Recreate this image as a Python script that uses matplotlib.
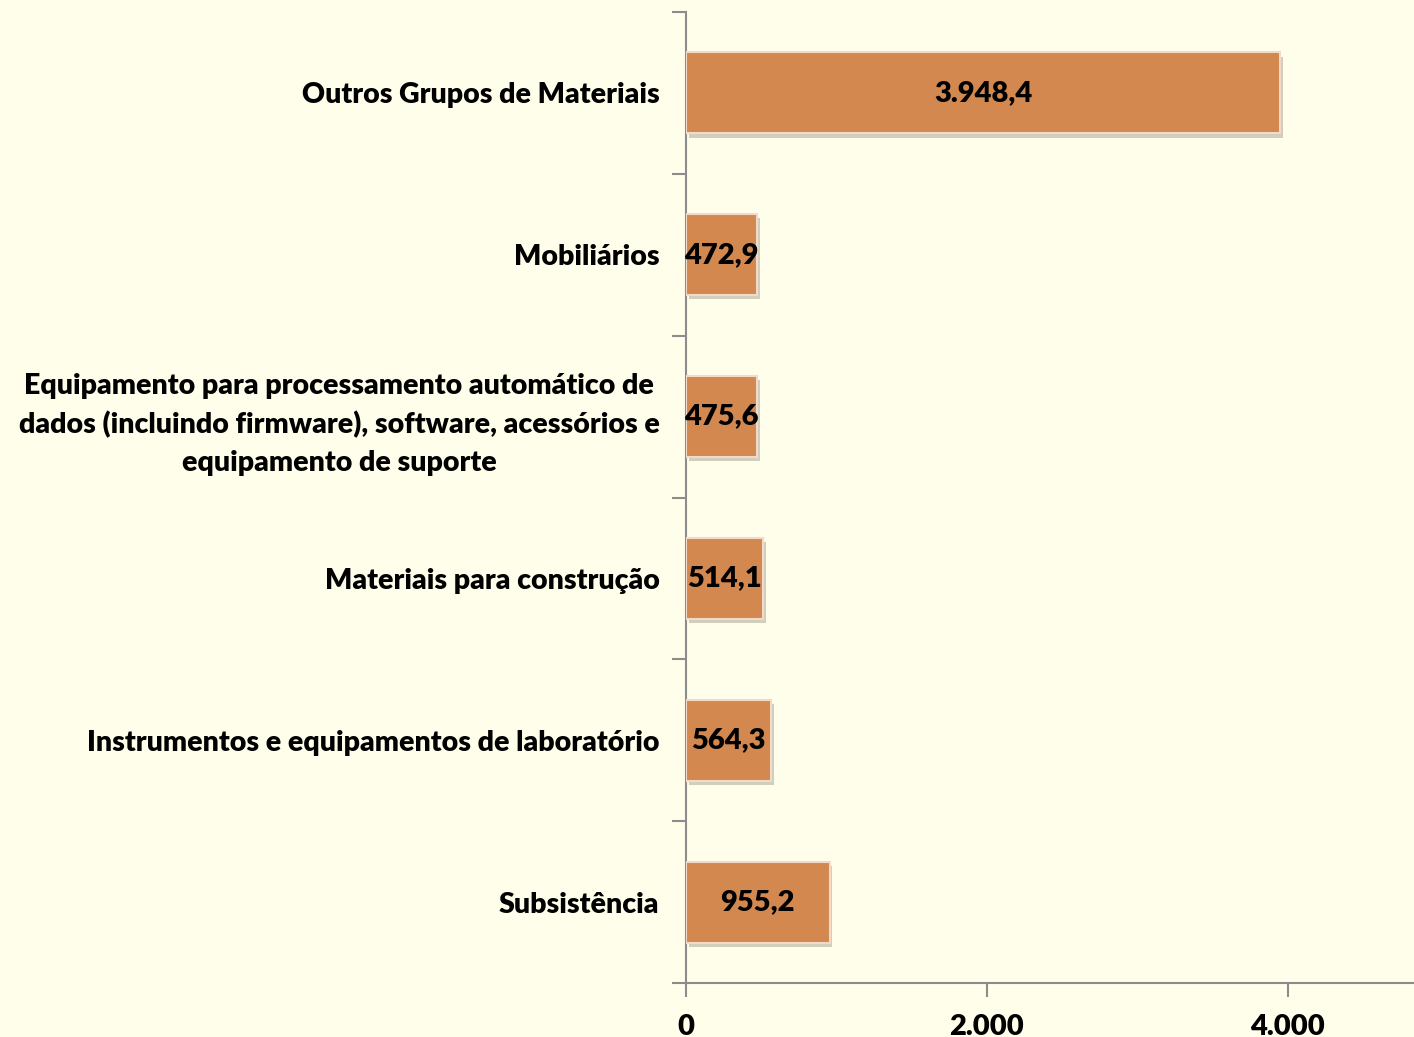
import matplotlib.pyplot as plt
import matplotlib.patheffects as pe
from matplotlib.ticker import FuncFormatter

# Dados (de baixo para cima)
categorias = [
    'Subsistência',
    'Instrumentos e equipamentos de laboratório',
    'Materiais para construção',
    'Equipamento para processamento automático de\n'
    'dados (incluindo firmware), software, acessórios e\n'
    'equipamento de suporte',
    'Mobiliários',
    'Outros Grupos de Materiais',
]
valores = [955.2, 564.3, 514.1, 475.6, 472.9, 3948.4]
xticks = [0, 2000, 4000]

fundo = '#FFFEEA'
cor_barra = '#D2884F'
cinza = '#8C8C8C'
fonte = ['Lato', 'DejaVu Sans']
peso = 'heavy'


def br(v, dec=1):
    s = f'{v:,.{dec}f}'
    return s.replace(',', 'X').replace('.', ',').replace('X', '.')


fig = plt.figure(figsize=(14.14, 10.37), dpi=100, facecolor=fundo)
ax = fig.add_axes([0.4851, 0.0521, 0.5149, 0.9363])
ax.set_facecolor(fundo)

pos = list(range(len(categorias)))
barras = ax.barh(pos, valores, height=0.5, color=cor_barra,
                 edgecolor='#F3D9C8', linewidth=1.5, zorder=3)
for b in barras:
    b.set_path_effects([pe.SimplePatchShadow(offset=(2, -3), shadow_rgbFace='#8A8A78', alpha=0.4),
                        pe.Normal()])

for p, v in zip(pos, valores):
    ax.text(v / 2, p, br(v), ha='center', va='center', fontsize=21,
            fontweight=peso, family=fonte, color='black', zorder=4)

ax.set_xlim(0, 4840)
ax.set_ylim(-0.5, len(categorias) - 0.5)

# eixo y: marcas nas divisões, rótulos no centro
ax.set_yticks([i - 0.5 for i in range(len(categorias) + 1)])
ax.set_yticklabels([])
ax.set_yticks(pos, minor=True)
ax.set_yticklabels(categorias, minor=True, fontsize=20.5, fontweight=peso, family=fonte)
for lb in ax.get_yticklabels(minor=True):
    lb.set_multialignment('center')
    lb.set_linespacing(1.53)
ax.tick_params(axis='y', which='major', length=10, width=1.5, color=cinza, direction='out')
ax.tick_params(axis='y', which='minor', length=0, pad=19)

ax.set_xticks(xticks)
ax.xaxis.set_major_formatter(FuncFormatter(lambda x, _: br(x, 0)))
ax.tick_params(axis='x', length=10, width=1.5, color=cinza, pad=12, labelsize=21)
for lb in ax.get_xticklabels():
    lb.set_fontweight(peso)
    lb.set_family(fonte)

for s in ['top', 'right']:
    ax.spines[s].set_visible(False)
for s in ['left', 'bottom']:
    ax.spines[s].set_color(cinza)
    ax.spines[s].set_linewidth(1.5)

fig.savefig('out.png', dpi=100, facecolor=fundo)
